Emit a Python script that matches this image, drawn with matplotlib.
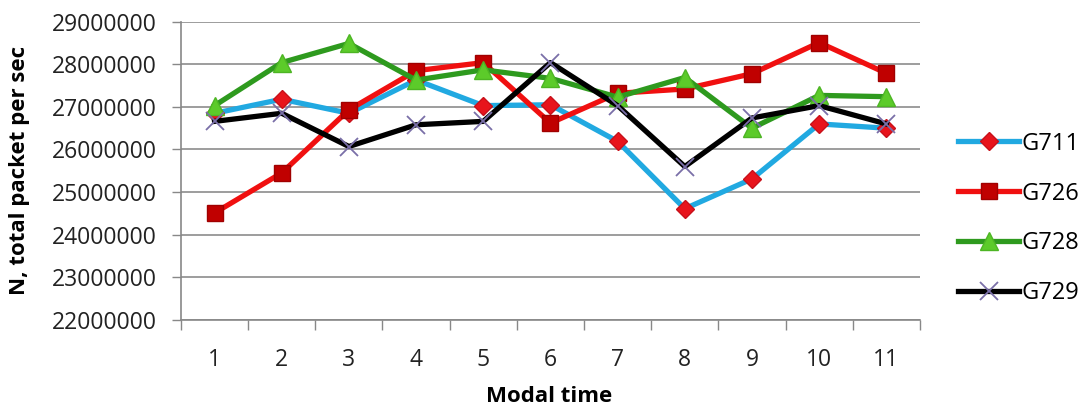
import matplotlib
matplotlib.use("Agg")
import matplotlib.pyplot as plt
from matplotlib.ticker import FixedLocator, NullFormatter

plt.rcParams['font.family'] = ['Open Sans', 'DejaVu Sans']

modal_time = [1, 2, 3, 4, 5, 6, 7, 8, 9, 10, 11]
g711 = [26850000, 27180000, 26850000, 27630000, 27030000, 27050000, 26190000, 24610000, 25310000, 26600000, 26500000]
g726 = [24510000, 25450000, 26930000, 27850000, 28040000, 26620000, 27320000, 27420000, 27780000, 28510000, 27790000]
g728 = [27030000, 28040000, 28490000, 27630000, 27870000, 27670000, 27230000, 27690000, 26500000, 27270000, 27240000]
g729 = [26660000, 26850000, 26070000, 26580000, 26660000, 28040000, 27030000, 25600000, 26740000, 27030000, 26600000]
y_ticks = [22000000, 23000000, 24000000, 25000000, 26000000, 27000000, 28000000, 29000000]

fig = plt.figure(figsize=(10.81, 4.08), dpi=100)
ax = fig.add_axes([0.1674, 0.216, 0.6836, 0.7308])

lw = 3.8
ax.plot(modal_time, g711, color='#21A9E1', lw=lw, marker='D', ms=9,
        mfc='#E8141C', mec='#C8101A', label='G711', zorder=3)
ax.plot(modal_time, g726, color='#F01010', lw=lw, marker='s', ms=12,
        mfc='#C00000', mec='#A00000', label='G726', zorder=3)
ax.plot(modal_time, g728, color='#2E9A1E', lw=lw, marker='^', ms=13,
        mfc='#5CCB2A', mec='#4DB524', label='G728', zorder=3)
ax.plot(modal_time, g729, color='#000000', lw=lw, marker='x', ms=13, mew=1.3,
        mec='#7A6FA8', label='G729', zorder=3)

ax.set_xlim(0.5, 11.5)
ax.set_ylim(22000000, 29000000)
ax.set_yticks(y_ticks)
ax.set_yticklabels([str(v) for v in y_ticks])
ax.set_xticks(modal_time)
ax.set_xticklabels([str(v) for v in modal_time])
ax.xaxis.set_minor_locator(FixedLocator([i + 0.5 for i in range(0, 12)]))
ax.xaxis.set_minor_formatter(NullFormatter())
ax.tick_params(axis='x', which='major', length=0, labelsize=16.5, pad=20, labelcolor='#222222')
ax.tick_params(axis='x', which='minor', length=7, color='#888888', width=1)
ax.tick_params(axis='y', length=6.5, color='#888888', width=1, labelsize=16.5, pad=11, labelcolor='#222222')

ax.grid(axis='y', color='#8C8C8C', lw=1.2)
ax.set_axisbelow(True)
for s in ['top', 'right']:
    ax.spines[s].set_visible(False)
for s in ['left', 'bottom']:
    ax.spines[s].set_color('#888888')
    ax.spines[s].set_linewidth(1.2)

ax.set_xlabel('Modal time', fontsize=16, fontweight='bold', va='center')
ax.xaxis.set_label_coords(0.498, -0.258)
ax.set_ylabel('N, total packet per sec', fontsize=16, fontweight='bold', va='center')
ax.yaxis.set_label_coords(-0.218, 0.5)

leg = fig.legend(loc='center left', bbox_to_anchor=(958 / 1081, 1 - 218.5 / 408), frameon=False,
                 fontsize=17, handlelength=2.6, handletextpad=0.1, labelspacing=1.1,
                 borderpad=0, borderaxespad=0)

fig.savefig('out.png', dpi=100)
